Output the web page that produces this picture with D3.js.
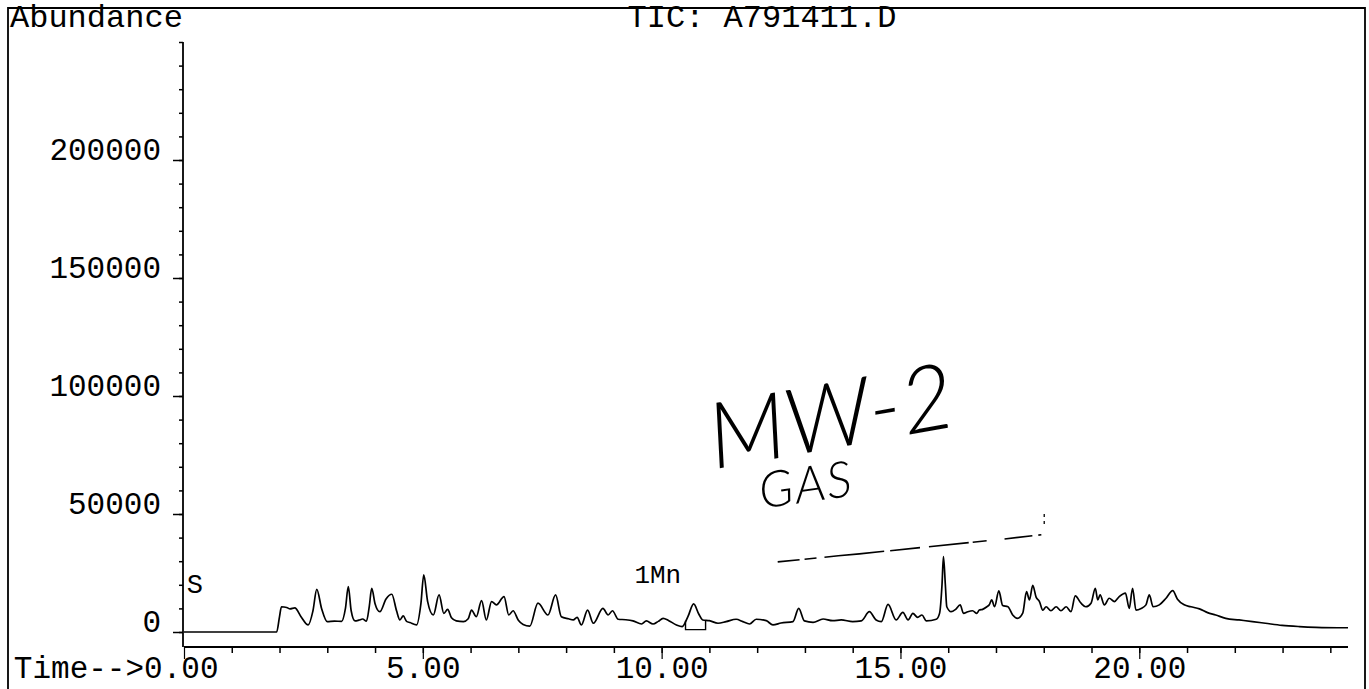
<!DOCTYPE html>
<html>
<head>
<meta charset="utf-8">
<script src="https://cdn.jsdelivr.net/npm/d3@7/dist/d3.min.js"></script>
<style>
  html, body { margin: 0; padding: 0; background: #fff; }
  svg { display: block; }
  text { font-family: "Liberation Mono", "Courier New", monospace; fill: #000; }
</style>
</head>
<body>
<svg id="chart" width="1369" height="689"></svg>
<script>
// ---- data (time in minutes, abundance) ----
const times = [0.0, 1.94, 2.00, 2.04, 2.15, 2.22, 2.32, 2.45, 2.6, 2.70, 2.78, 2.88, 3.0, 3.15, 3.3, 3.38, 3.44, 3.5, 3.58, 3.66, 3.74, 3.82, 3.88, 3.93, 4.0, 4.1, 4.23, 4.35, 4.45, 4.52, 4.59, 4.66, 4.73, 4.87, 4.96, 5.02, 5.1, 5.22, 5.34, 5.44, 5.52, 5.6, 5.7, 5.85, 5.95, 6.02, 6.12, 6.23, 6.33, 6.44, 6.54, 6.7, 6.8, 6.89, 7.0, 7.1, 7.24, 7.41, 7.62, 7.78, 7.9, 8.05, 8.15, 8.23, 8.32, 8.45, 8.57, 8.77, 8.88, 8.97, 9.09, 9.25, 9.4, 9.58, 9.68, 9.82, 9.93, 10.03, 10.15, 10.31, 10.43, 10.55, 10.67, 10.78, 10.86, 11.0, 11.18, 11.35, 11.56, 11.7, 11.84, 11.98, 12.19, 12.33, 12.5, 12.75, 12.87, 12.99, 13.17, 13.38, 13.58, 13.76, 14.0, 14.18, 14.35, 14.49, 14.6, 14.74, 14.91, 15.05, 15.16, 15.26, 15.36, 15.45, 15.54, 15.75, 15.82, 15.87, 15.9, 15.94, 15.97, 16.06, 16.15, 16.25, 16.32, 16.41, 16.51, 16.6, 16.65, 16.72, 16.81, 16.86, 16.91, 16.97, 17.06, 17.14, 17.25, 17.35, 17.45, 17.56, 17.64, 17.70, 17.77, 17.84, 17.91, 17.98, 18.05, 18.15, 18.26, 18.36, 18.47, 18.57, 18.66, 18.78, 18.88, 18.99, 19.08, 19.13, 19.18, 19.27, 19.37, 19.48, 19.58, 19.71, 19.79, 19.86, 19.93, 20.04, 20.14, 20.21, 20.29, 20.42, 20.56, 20.7, 20.8, 20.94, 21.08, 21.26, 21.43, 21.6, 21.81, 22.09, 22.37, 22.64, 22.99, 23.35, 23.7, 24.37];
const abundance = [0, 0, 6500, 10700, 10400, 9800, 10200, 6500, 3000, 9000, 18100, 10000, 4400, 4600, 4500, 10000, 19200, 9000, 4700, 5000, 5500, 4600, 11000, 18500, 12000, 8600, 14000, 16000, 9000, 5100, 6800, 4500, 4000, 3000, 12000, 24200, 13000, 7200, 15700, 7900, 9600, 6000, 4700, 4400, 5600, 9300, 6500, 13300, 5100, 12900, 11500, 15000, 7200, 9000, 5000, 3200, 2500, 12200, 7200, 15700, 6500, 5600, 5100, 6200, 3000, 9300, 3700, 10000, 7200, 9000, 5400, 5200, 4700, 3400, 4700, 3400, 4500, 5800, 4800, 3000, 2300, 6500, 11900, 7500, 5100, 4800, 3700, 4400, 5400, 4400, 3400, 5400, 4800, 3000, 3800, 4400, 10000, 4700, 4100, 5500, 4800, 5100, 4400, 4700, 8600, 5100, 4400, 11700, 5100, 8300, 5100, 7900, 6200, 7200, 4700, 5400, 8000, 20000, 32000, 20000, 10700, 8600, 9500, 11500, 7900, 8600, 9000, 7900, 9300, 9600, 10700, 11500, 13600, 10700, 17400, 11200, 10700, 7200, 5800, 8000, 17100, 13600, 19800, 14800, 12900, 9300, 10700, 9000, 10700, 9000, 10700, 8600, 15300, 12200, 10700, 12200, 18500, 13600, 15700, 11500, 14300, 12900, 15000, 16500, 10000, 18500, 9300, 10000, 11500, 15700, 10700, 11500, 14300, 17500, 13900, 11500, 10700, 9800, 8200, 7200, 5800, 5100, 4400, 3700, 2800, 2300, 2000, 1800];

const yMajorTicks = [0, 50000, 100000, 150000, 200000];
const yTickLabels = ["0", "50000", "100000", "150000", "200000"];
const xMajorTicks = [0, 5, 10, 15, 20];
const xTickLabels = ["Time-->0.00", "5.00", "10.00", "15.00", "20.00"];
const xDomain = [0, 24.37];
const yDomain = [0, 250000];

// integration baseline of the marked peak
const intStart = 10.50, intEnd = 10.92, intBase = 1000;

// peak labels
const peakLabels = [
  { t: 0.06, v: 16500, text: "S" },
  { t: 9.43, v: 20800, text: "1Mn" }
];

// hand annotation (in data units)
const handTexts = [
  { t: 11.1, v: 69000, text: "MW-2", size: 92, rot: -10, spacing: 0 },
  { t: 12.09, v: 52300, text: "GAS", size: 50, rot: -8, spacing: 2 }
];
const handLineT = [12.43, 13.7, 14.14, 16.44, 17.03, 17.95];
const handLineV = [29700, 32300, 33100, 37900, 39100, 41200];
const handTickT = [18.01, 18.01];
const handTickV = [45800, 51600];

// ---- layout ----
const svg = d3.select("#chart");
const x = d3.scaleLinear().domain(xDomain).range([184, 1348]);
const y = d3.scaleLinear().domain(yDomain).range([632, 42]);
const xAxisY = 647;
const mono = "Liberation Mono, Courier New, monospace";

// outer frame
svg.append("path")
  .attr("d", "M8,689 L8,8 L1365,8 L1365,689")
  .attr("fill", "none").attr("stroke", "#000").attr("stroke-width", 1.8);

// header texts
svg.append("text").attr("x", 10).attr("y", 27)
  .attr("font-size", 32).text("Abundance");
svg.append("text").attr("x", 762).attr("y", 27)
  .attr("text-anchor", "middle").attr("font-size", 32).text("TIC: A791411.D");

// y axis
const yAxisG = svg.append("g").attr("transform", "translate(183,0)");
yAxisG.append("line").attr("x1", 0).attr("x2", 0)
  .attr("y1", y(yDomain[1])).attr("y2", xAxisY)
  .attr("stroke", "#000").attr("stroke-width", 1.8);
const yMinor = d3.range(0, 250001, 10000);
yAxisG.append("g")
  .call(d3.axisLeft(y).tickValues(yMinor).tickSize(4).tickFormat("").tickSizeOuter(0))
  .call(g => g.select(".domain").remove())
  .call(g => g.selectAll("line").attr("stroke-width", 1.5));
yAxisG.append("g")
  .call(d3.axisLeft(y).tickValues(yMajorTicks).tickSize(10).tickPadding(12)
    .tickFormat((d, i) => yTickLabels[i]).tickSizeOuter(0))
  .call(g => g.select(".domain").remove())
  .call(g => g.selectAll("line").attr("stroke-width", 1.5))
  .call(g => g.selectAll("text")
    .attr("dy", "-0.03em").attr("font-size", 31)
    .style("font-family", mono).attr("fill", "#000"));

// x axis
const xAxisG = svg.append("g").attr("transform", `translate(0,${xAxisY})`);
xAxisG.append("line").attr("x1", x(0)).attr("x2", x(xDomain[1]))
  .attr("y1", 0).attr("y2", 0).attr("stroke", "#000").attr("stroke-width", 2);
xAxisG.append("g")
  .call(d3.axisBottom(x).tickValues(d3.range(1, 25)).tickSize(6).tickFormat("").tickSizeOuter(0))
  .call(g => g.select(".domain").remove())
  .call(g => g.selectAll("line").attr("stroke-width", 1.5));
xAxisG.append("g")
  .call(d3.axisBottom(x).tickValues(xMajorTicks).tickSize(12)
    .tickFormat((d, i) => xTickLabels[i]).tickSizeOuter(0))
  .call(g => g.select(".domain").remove())
  .call(g => g.selectAll("line").attr("stroke-width", 1.2))
  .call(g => g.selectAll("text")
    .attr("y", 31).attr("dy", "0").attr("font-size", 31)
    .style("font-family", mono).attr("fill", "#000")
    .attr("text-anchor", (d, i) => i === 0 ? "end" : "middle")
    .attr("x", (d, i) => i === 0 ? 34 : 0));

// trace
const pts = times.map((t, i) => [t, abundance[i]]);
const line = d3.line().x(d => x(d[0])).y(d => y(d[1])).curve(d3.curveMonotoneX);
svg.append("path").attr("d", line(pts))
  .attr("fill", "none").attr("stroke", "#000").attr("stroke-width", 1.7)
  .attr("stroke-linejoin", "round");

// integration baseline of marked peak
const interp = d3.scaleLinear().domain(times).range(abundance);
const intPts = [[intStart, interp(intStart)], [intStart, intBase], [intEnd, intBase], [intEnd, interp(intEnd)]];
svg.append("path").attr("d", d3.line().x(d => x(d[0])).y(d => y(d[1]))(intPts))
  .attr("fill", "none").attr("stroke", "#000").attr("stroke-width", 1.4);

// peak labels
svg.selectAll(".plabel").data(peakLabels).join("text")
  .attr("class", "plabel")
  .attr("x", d => x(d.t)).attr("y", d => y(d.v))
  .attr("font-size", d => d.text === "S" ? 27 : 26)
  .text(d => d.text);

// hand annotation
const hand = svg.append("g").attr("class", "hand");
hand.selectAll("text").data(handTexts).join("text")
  .attr("transform", d => `translate(${x(d.t)},${y(d.v)}) rotate(${d.rot})`)
  .style("font-family", "Lato, Inter, 'Noto Sans', sans-serif")
  .style("font-weight", 300).style("font-style", "italic")
  .attr("letter-spacing", d => d.spacing)
  .attr("font-size", d => d.size).text(d => d.text);
const hpts = handLineT.map((t, i) => [t, handLineV[i]]);
hand.append("path").attr("d", d3.line().x(d => x(d[0])).y(d => y(d[1]))(hpts))
  .attr("fill", "none").attr("stroke", "#000").attr("stroke-width", 1.6)
  .attr("stroke-dasharray", "22,5,12,8,60,6,30,9,40,4,14,18,28,6");
hand.append("path").attr("d", d3.line().x(d => x(d[0])).y(d => y(d[1]))(handTickT.map((t, i) => [t, handTickV[i]])))
  .attr("fill", "none").attr("stroke", "#000").attr("stroke-width", 1.3)
  .attr("stroke-dasharray", "3,4");
</script>
</body>
</html>
